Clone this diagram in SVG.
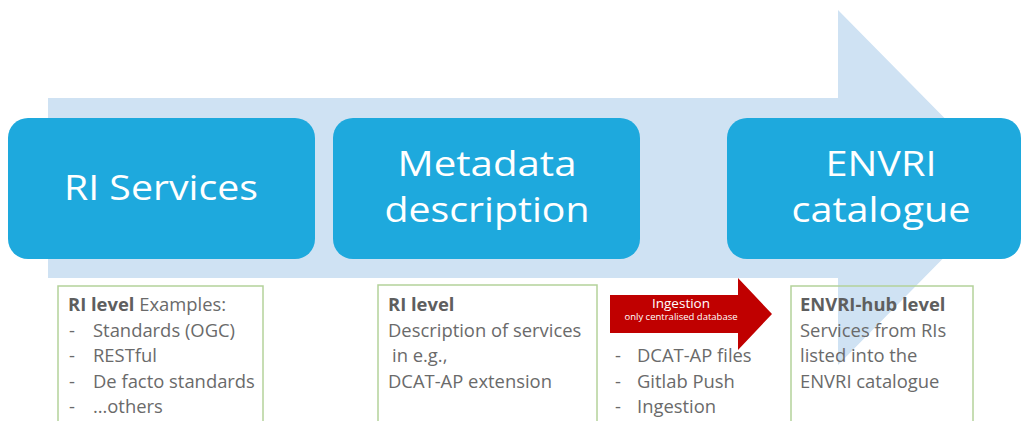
<svg xmlns="http://www.w3.org/2000/svg" width="1021" height="421" viewBox="0 0 1021 421">
<style>
.bg{fill:#ffffff}
.band{fill:#cfe2f3}
.step{fill:#1ea9dd}
.big{font-family:"Open Sans","Liberation Sans",sans-serif;font-size:34px;fill:#ffffff;text-anchor:middle}
.note{fill:none;stroke:#b4d29a;stroke-width:1.5}
.t{font-family:"Open Sans","Liberation Sans",sans-serif;font-size:18.4px;fill:#6a6a6a}
.b{font-weight:bold;fill:#5e5e5e}
.red{fill:#c00000}
.wt{font-family:"Open Sans","Liberation Sans",sans-serif;fill:#ffffff;text-anchor:middle}
</style>
<rect class="bg" x="0" y="0" width="1021" height="421"/>
<g id="flow-arrow">
<path class="band" d="M48,98 L838,98 L838,10 L1013,187.5 L838,365 L838,278 L48,278 Z"/>
</g>
<g id="ri-services">
<rect class="step" x="8" y="118" width="307" height="141" rx="20"/>
<text class="big" x="161" y="200" textLength="194" lengthAdjust="spacingAndGlyphs">RI Services</text>
</g>
<g id="metadata-description">
<rect class="step" x="333" y="118" width="307" height="141" rx="20"/>
<text class="big" x="487" y="176" textLength="179" lengthAdjust="spacingAndGlyphs">Metadata</text>
<text class="big" x="487" y="222" textLength="205" lengthAdjust="spacingAndGlyphs">description</text>
</g>
<g id="envri-catalogue">
<rect class="step" x="727" y="118" width="294" height="141" rx="20"/>
<text class="big" x="881" y="176" textLength="111" lengthAdjust="spacingAndGlyphs">ENVRI</text>
<text class="big" x="881" y="222" textLength="179" lengthAdjust="spacingAndGlyphs">catalogue</text>
</g>
<g id="ri-level-examples">
<rect class="note" x="58" y="286" width="205" height="150"/>
<text class="t" x="68" y="311"><tspan class="b">RI level</tspan> Examples:</text>
<text class="t" x="69" y="336.5">-</text><text class="t" x="93" y="336.5">Standards (OGC)</text>
<text class="t" x="69" y="362">-</text><text class="t" x="93" y="362">RESTful</text>
<text class="t" x="69" y="387.5">-</text><text class="t" x="93" y="387.5">De facto standards</text>
<text class="t" x="69" y="413">-</text><text class="t" x="93" y="413">…others</text>
</g>
<g id="ri-level-description">
<rect class="note" x="378" y="285" width="219" height="150"/>
<text class="t b" x="388" y="311">RI level</text>
<text class="t" x="388" y="336.5">Description of services</text>
<text class="t" x="392" y="362">in e.g.,</text>
<text class="t" x="388" y="387.5">DCAT-AP extension</text>
</g>
<g id="connectors">
<path class="red" d="M610,295 L738,295 L738,278 L772,314 L738,350 L738,333 L610,333 Z"/>
<text class="wt" x="681" y="308" font-size="13.5">Ingestion</text>
<text class="wt" x="681" y="320" font-size="9.5">only centralised database</text>
</g>
<g id="ingestion-methods">
<text class="t" x="615" y="362">-</text><text class="t" x="637" y="362">DCAT-AP files</text>
<text class="t" x="615" y="387.5">-</text><text class="t" x="637" y="387.5">Gitlab Push</text>
<text class="t" x="615" y="413">-</text><text class="t" x="637" y="413">Ingestion</text>
</g>
<g id="envri-hub-level">
<rect class="note" x="791" y="286" width="182" height="150"/>
<text class="t b" x="800" y="311">ENVRI-hub level</text>
<text class="t" x="800" y="336.5">Services from RIs</text>
<text class="t" x="800" y="362">listed into the</text>
<text class="t" x="800" y="387.5">ENVRI catalogue</text>
</g>
</svg>
